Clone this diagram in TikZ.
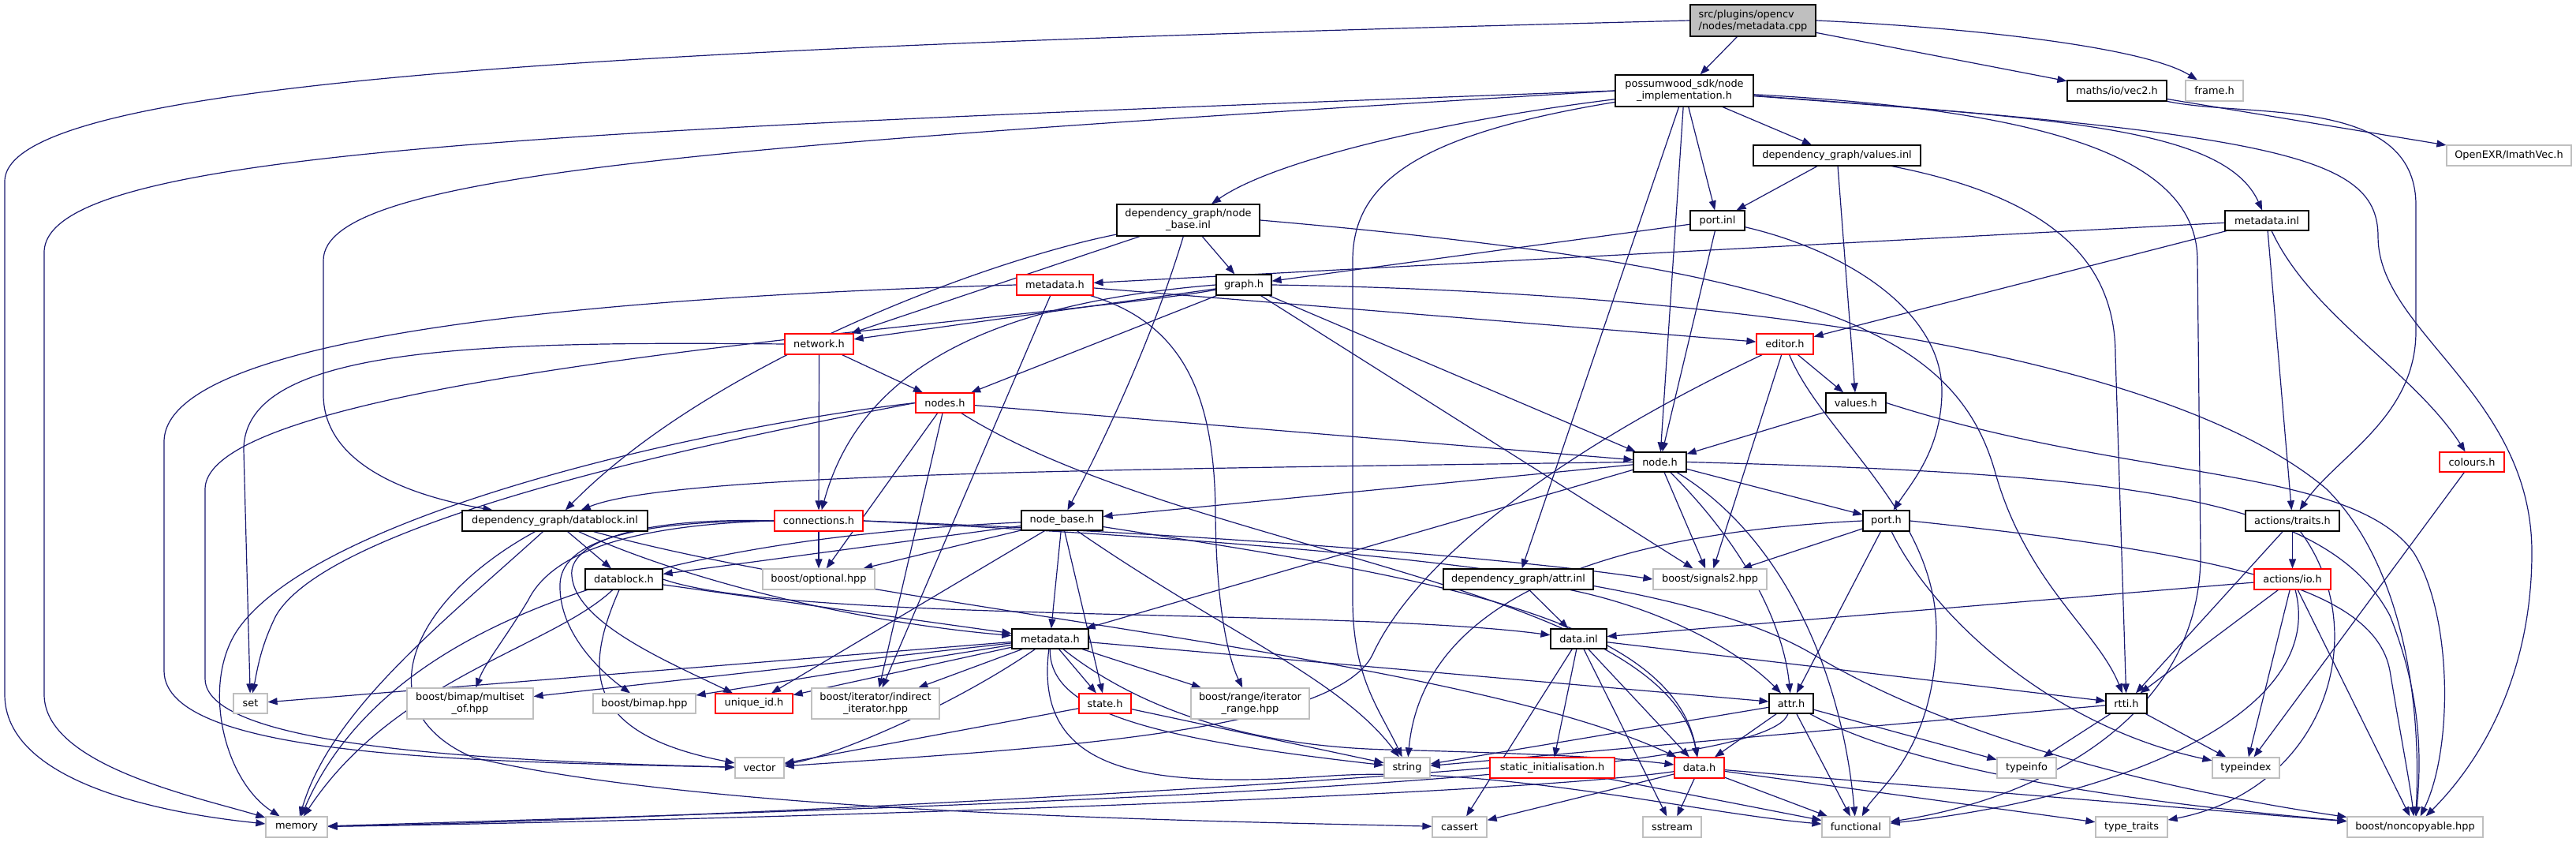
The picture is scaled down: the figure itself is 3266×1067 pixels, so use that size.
\documentclass[tikz,border=0pt]{standalone}
\usepackage{fontspec}
\setmainfont{DejaVu Sans}
\usetikzlibrary{arrows.meta}
\definecolor{edgeblue}{RGB}{25,25,112}
\definecolor{greyS}{RGB}{191,191,191}
\newcommand\nodefont{\fontsize{12.9}{15}\selectfont}
\pgfdeclarelayer{bg}
\pgfsetlayers{bg,main}
\begin{document}
\begin{tikzpicture}[x=1pt,y=-1pt,
  nb/.style={draw, rectangle, fill=white, line width=1.2pt, inner sep=0pt, align=center, font=\nodefont},
  blk/.style={nb, draw=black},
  rd/.style={nb, draw=red},
  gr/.style={nb, draw=greyS},
  root/.style={nb, draw=black, fill=greyS, align=left},
  e/.style={draw=edgeblue, line width=1.2pt, -{Triangle[length=12pt,width=9pt]}}]
\useasboundingbox (0,0) rectangle (3266,1067);
% nodes
\node[root, minimum width=159pt, minimum height=40pt] (src) at (2222.5,26) {src/plugins/opencv\\/nodes/metadata.cpp};
\node[blk, minimum width=175pt, minimum height=40pt] (impl) at (2135.5,115) {possumwood\_sdk/node\\\_implementation.h};
\node[blk, minimum width=126pt, minimum height=26pt] (vec2) at (2684,115) {maths/io/vec2.h};
\node[gr, minimum width=73pt, minimum height=26pt] (frame) at (2807.5,115) {frame.h};
\node[blk, minimum width=212pt, minimum height=26pt] (valinl) at (2329,197) {dependency\_graph/values.inl};
\node[gr, minimum width=158pt, minimum height=26pt] (imath) at (3181,197) {OpenEXR/ImathVec.h};
\node[blk, minimum width=181pt, minimum height=40pt] (nbinl) at (1506.5,279) {dependency\_graph/node\\\_base.inl};
\node[blk, minimum width=69pt, minimum height=25pt] (portinl) at (2177.5,279.5) {port.inl};
\node[blk, minimum width=106pt, minimum height=25pt] (mdinl) at (2874,279.5) {metadata.inl};
\node[rd, minimum width=97pt, minimum height=26pt] (mdh1) at (1337.5,361) {metadata.h};
\node[blk, minimum width=70pt, minimum height=26pt] (graph) at (1577,361) {graph.h};
\node[rd, minimum width=87pt, minimum height=26pt] (network) at (1038.5,436) {network.h};
\node[rd, minimum width=72pt, minimum height=26pt] (editor) at (2263,436) {editor.h};
\node[rd, minimum width=74pt, minimum height=25pt] (nodes) at (1198,510.5) {nodes.h};
\node[blk, minimum width=76pt, minimum height=25pt] (values) at (2353,510.5) {values.h};
\node[blk, minimum width=67pt, minimum height=25pt] (nodeh) at (2104.5,585.5) {node.h};
\node[rd, minimum width=82pt, minimum height=25pt] (colours) at (3134,585.5) {colours.h};
\node[blk, minimum width=235pt, minimum height=26pt] (dbinl) at (703.5,660) {dependency\_graph/datablock.inl};
\node[rd, minimum width=112pt, minimum height=26pt] (conn) at (1038,660) {connections.h};
\node[blk, minimum width=103pt, minimum height=25pt] (nbase) at (1346.5,659.5) {node\_base.h};
\node[blk, minimum width=59pt, minimum height=26pt] (port) at (2391.5,660) {port.h};
\node[blk, minimum width=119pt, minimum height=26pt] (traits) at (2906.5,660) {actions/traits.h};
\node[blk, minimum width=98pt, minimum height=26pt] (dblock) at (791,734) {datablock.h};
\node[gr, minimum width=142pt, minimum height=26pt] (optional) at (1038,734) {boost/optional.hpp};
\node[blk, minimum width=190pt, minimum height=26pt] (attrinl) at (1925,734) {dependency\_graph/attr.inl};
\node[gr, minimum width=144pt, minimum height=26pt] (signals) at (2168,734) {boost/signals2.hpp};
\node[rd, minimum width=97pt, minimum height=26pt] (io) at (2906.5,734) {actions/io.h};
\node[blk, minimum width=97pt, minimum height=25pt] (mdh) at (1331.5,809.5) {metadata.h};
\node[blk, minimum width=71pt, minimum height=25pt] (datainl) at (2001.5,809.5) {data.inl};
\node[gr, minimum width=43pt, minimum height=25pt] (seth) at (317.5,891.5) {set};
\node[gr, minimum width=160pt, minimum height=39pt] (multiset) at (596,891.5) {boost/bimap/multiset\\\_of.hpp};
\node[gr, minimum width=130pt, minimum height=25pt] (bimap) at (817,891.5) {boost/bimap.hpp};
\node[rd, minimum width=98pt, minimum height=25pt] (uid) at (956,891.5) {unique\_id.h};
\node[gr, minimum width=162pt, minimum height=39pt] (indirect) at (1110,891.5) {boost/iterator/indirect\\\_iterator.hpp};
\node[rd, minimum width=66pt, minimum height=25pt] (state) at (1401,891.5) {state.h};
\node[gr, minimum width=150pt, minimum height=39pt] (range) at (1585,891.5) {boost/range/iterator\\\_range.hpp};
\node[blk, minimum width=56pt, minimum height=25pt] (attr) at (2271,891.5) {attr.h};
\node[blk, minimum width=52pt, minimum height=25pt] (rtti) at (2696,891.5) {rtti.h};
\node[gr, minimum width=62pt, minimum height=26pt] (vector) at (963,973) {vector};
\node[gr, minimum width=58pt, minimum height=26pt] (string) at (1784,973) {string};
\node[rd, minimum width=158pt, minimum height=26pt] (static) at (1968,973) {static\_initialisation.h};
\node[rd, minimum width=63pt, minimum height=26pt] (datah) at (2154.5,973) {data.h};
\node[gr, minimum width=75pt, minimum height=26pt] (typeinfo) at (2569.5,973) {typeinfo};
\node[gr, minimum width=85pt, minimum height=26pt] (typeindex) at (2847.5,973) {typeindex};
\node[gr, minimum width=78pt, minimum height=26pt] (memory) at (376,1048) {memory};
\node[gr, minimum width=69pt, minimum height=26pt] (cassert) at (1850.5,1048) {cassert};
\node[gr, minimum width=74pt, minimum height=26pt] (sstream) at (2120,1048) {sstream};
\node[gr, minimum width=86pt, minimum height=26pt] (functional) at (2353,1048) {functional};
\node[gr, minimum width=91pt, minimum height=26pt] (typetraits) at (2702.5,1048) {type\_traits};
\node[gr, minimum width=172pt, minimum height=26pt] (noncopy) at (3062,1048) {boost/noncopyable.hpp};
% edges
\begin{pgfonlayer}{bg}
% src
\draw[e] (src.west) .. controls (800,60) and (6,100) .. (6,230) -- (6,880) .. controls (6,990) and (200,1030) .. (memory);
\draw[e] (src) -- (impl);
\draw[e] (src) -- (vec2);
\draw[e] (src.east) .. controls (2500,35) and (2720,60) .. (frame);
\draw[e] (vec2) -- (imath);
\draw[e] (vec2) .. controls (2850,150) and (3063,120) .. (3063,260) -- (3063,420) .. controls (3063,530) and (2960,580) .. (traits);
% impl
\draw[e] (impl.west) .. controls (700,165) and (56,190) .. (56,320) -- (56,880) .. controls (56,970) and (250,1010) .. (memory);
\draw[e] (impl.west) .. controls (900,185) and (410,220) .. (410,330) -- (410,500) .. controls (410,580) and (500,625) .. (dbinl);
\draw[e] (impl) .. controls (1850,150) and (1620,200) .. (nbinl);
\draw[e] (impl) .. controls (1800,170) and (1715,230) .. (1715,330) -- (1715,760) .. controls (1715,860) and (1750,900) .. (string);
\draw[e] (impl) -- (nodeh);
\draw[e] (impl) -- (attrinl);
\draw[e] (impl) -- (portinl);
\draw[e] (impl) -- (valinl);
\draw[e] (impl) .. controls (2600,150) and (2820,160) .. (mdinl);
\draw[e] (impl) .. controls (2600,140) and (2786,200) .. (2786,330) -- (2790,700) .. controls (2792,900) and (2600,1010) .. (functional);
\draw[e] (impl) .. controls (2900,170) and (3015,200) .. (3015,300) .. controls (3015,420) and (3210,500) .. (3210,700) .. controls (3210,850) and (3150,960) .. (noncopy);
% valinl
\draw[e] (valinl) -- (portinl);
\draw[e] (valinl) -- (values);
\draw[e] (valinl) .. controls (2600,250) and (2682,330) .. (2682,450) -- (rtti);
% nbinl
\draw[e] (nbinl) -- (graph);
\draw[e] (nbinl) -- (network);
\draw[e] (nbinl) .. controls (1250,330) and (900,460) .. (dbinl);
\draw[e] (nbinl) .. controls (1470,400) and (1420,520) .. (nbase);
\draw[e] (nbinl.east) .. controls (2300,340) and (2480,420) .. (2530,600) .. controls (2570,740) and (2660,800) .. (rtti);
% portinl
\draw[e] (portinl) -- (graph);
\draw[e] (portinl) -- (nodeh);
\draw[e] (portinl) .. controls (2350,320) and (2465,400) .. (2462,500) .. controls (2460,570) and (2425,610) .. (port);
% mdinl
\draw[e] (mdinl) -- (mdh1);
\draw[e] (mdinl) -- (editor);
\draw[e] (mdinl) -- (traits);
\draw[e] (mdinl) .. controls (2930,400) and (3060,470) .. (colours);
% mdh1
\draw[e] (mdh1) -- (editor);
\draw[e] (mdh1.west) .. controls (800,375) and (208,420) .. (208,560) -- (208,850) .. controls (208,960) and (600,965) .. (vector);
\draw[e] (mdh1) -- (indirect);
\draw[e] (mdh1) .. controls (1500,410) and (1540,500) .. (1541,650) .. controls (1542,780) and (1560,840) .. (range);
% graph
\draw[e] (graph) -- (network);
\draw[e] (graph) -- (nodes);
\draw[e] (graph.west) .. controls (1250,385) and (1090,470) .. (conn);
\draw[e] (graph) -- (nodeh);
\draw[e] (graph) -- (signals);
\draw[e] (graph.east) .. controls (2200,370) and (2750,450) .. (2950,620) .. controls (3050,720) and (3070,900) .. (noncopy);
\draw[e] (graph) .. controls (1300,410) and (260,470) .. (260,620) -- (260,860) .. controls (260,950) and (650,965) .. (vector);
% network
\draw[e] (network) -- (nodes);
\draw[e] (network) -- (conn);
\draw[e] (network.west) .. controls (600,432) and (309,440) .. (309,570) -- (seth);
% editor
\draw[e] (editor) -- (values);
\draw[e] (editor) -- (signals);
\draw[e] (editor) .. controls (2000,560) and (1800,700) .. (1740,830) .. controls (1690,930) and (1300,950) .. (vector);
\draw[e] (editor) .. controls (2310,550) and (2455,650) .. (2455,800) .. controls (2455,950) and (2380,1000) .. (functional);
% nodes
\draw[e] (nodes) -- (nodeh);
\draw[e] (nodes) -- (optional);
\draw[e] (nodes.west) .. controls (900,540) and (400,650) .. (300,800) .. controls (255,870) and (285,990) .. (memory);
\draw[e] (nodes.west) .. controls (900,560) and (420,660) .. (350,780) .. controls (330,820) and (326,850) .. (seth);
\draw[e] (nodes) -- (indirect);
\draw[e] (nodes) .. controls (1500,700) and (2110,740) .. (datah);
% nbase
\draw[e] (nbase) -- (dblock);
\draw[e] (nbase) -- (optional);
\draw[e] (nbase) -- (mdh);
\draw[e] (nbase) -- (state);
\draw[e] (nbase) .. controls (1550,800) and (1700,860) .. (string);
\draw[e] (nbase) .. controls (1800,730) and (2120,780) .. (datah);
\draw[e] (nbase) -- (uid);
\draw[e] (nbase) .. controls (900,680) and (500,760) .. (memory);
% conn
\draw[e] (conn) -- (optional);
\draw[e] (conn.east) .. controls (1500,675) and (1900,705) .. (signals.west);
\draw[e] (conn.east) .. controls (1800,695) and (2150,740) .. (2300,830) .. controls (2500,950) and (2800,1010) .. (noncopy);
\draw[e] (conn.west) .. controls (800,655) and (720,690) .. (725,730) .. controls (730,790) and (850,840) .. (uid);
\draw[e] (conn.west) .. controls (790,660) and (712,690) .. (710,740) .. controls (708,800) and (760,850) .. (bimap);
\draw[e] (conn.west) .. controls (800,665) and (700,700) .. (670,760) .. controls (640,810) and (615,840) .. (multiset);
% dbinl
\draw[e] (dbinl) -- (dblock);
\draw[e] (dbinl) .. controls (880,740) and (1100,790) .. (mdh);
\draw[e] (dbinl) .. controls (520,760) and (460,900) .. (600,960) .. controls (900,1030) and (1500,1040) .. (cassert);
\draw[e] (dbinl) .. controls (560,790) and (420,900) .. (memory);
\draw[e] (dbinl) .. controls (1100,770) and (1850,830) .. (datah);
% dblock
\draw[e] (dblock) -- (mdh);
\draw[e] (dblock.east) .. controls (1000,790) and (1700,770) .. (datainl);
\draw[e] (dblock) .. controls (700,820) and (500,860) .. (memory);
\draw[e] (dblock) .. controls (740,850) and (740,930) .. (vector);
% attrinl
\draw[e] (attrinl) -- (datainl);
\draw[e] (attrinl) .. controls (2100,770) and (2200,820) .. (attr);
% port
\draw[e] (port) -- (signals);
\draw[e] (port) -- (attr);
\draw[e] (port) .. controls (2450,780) and (2600,920) .. (typeindex);
\draw[e] (port.east) .. controls (2800,700) and (3010,740) .. (3030,850) .. controls (3045,940) and (3055,990) .. (noncopy);
\draw[e] (port.west) .. controls (1950,680) and (1800,800) .. (string);
% node
\draw[e] (nodeh) -- (nbase);
\draw[e] (nodeh) -- (port);
\draw[e] (nodeh) -- (mdh);
\draw[e] (nodeh) -- (signals);
\draw[e] (nodeh) .. controls (2200,680) and (2260,780) .. (attr);
\draw[e] (nodeh) .. controls (2260,680) and (2335,850) .. (functional);
\draw[e] (nodeh.east) .. controls (2700,600) and (2950,630) .. (3030,780) .. controls (3070,880) and (3070,960) .. (noncopy);
\draw[e] (nodeh.west) .. controls (1400,595) and (850,600) .. (dbinl);
% values
\draw[e] (values) -- (nodeh);
\draw[e] (values.east) .. controls (2700,610) and (2980,590) .. (3060,700) .. controls (3110,780) and (3110,950) .. (noncopy);
% traits
\draw[e] (traits) -- (io);
\draw[e] (traits) -- (rtti);
\draw[e] (traits) .. controls (3010,800) and (2950,1000) .. (typetraits);
% io
\draw[e] (io) -- (datainl);
\draw[e] (io) -- (rtti);
\draw[e] (io) -- (typeindex);
\draw[e] (io) .. controls (2950,900) and (2700,1010) .. (functional);
\draw[e] (io) -- (noncopy);
% colours
\draw[e] (colours) -- (typeindex);
% mdh
\draw[e] (mdh) -- (seth);
\draw[e] (mdh) -- (multiset);
\draw[e] (mdh) -- (bimap);
\draw[e] (mdh) -- (uid);
\draw[e] (mdh) -- (indirect);
\draw[e] (mdh) -- (state);
\draw[e] (mdh) -- (range);
\draw[e] (mdh) -- (attr);
\draw[e] (mdh) .. controls (1200,900) and (1050,960) .. (vector);
\draw[e] (mdh) .. controls (1330,900) and (1450,935) .. (string);
\draw[e] (mdh) .. controls (1420,880) and (1550,945) .. (1760,950) .. controls (1950,955) and (2050,960) .. (datah);
\draw[e] (mdh) .. controls (1310,980) and (1450,1000) .. (1689,983) .. controls (1900,970) and (2150,1030) .. (functional);
% datainl
\draw[e] (datainl) -- (rtti);
\draw[e] (datainl) -- (datah);
\draw[e] (datainl) -- (static);
\draw[e] (datainl) -- (cassert);
\draw[e] (datainl) -- (sstream);
% state
\draw[e] (state) -- (vector);
\draw[e] (state) -- (string);
% attr
\draw[e] (attr) -- (string);
\draw[e] (attr) -- (datah);
\draw[e] (attr) .. controls (2240,990) and (1300,1020) .. (memory);
\draw[e] (attr) -- (typeinfo);
\draw[e] (attr) -- (functional);
\draw[e] (attr) .. controls (2450,990) and (2800,1025) .. (noncopy);
% rtti
\draw[e] (rtti) -- (string);
\draw[e] (rtti) -- (typeinfo);
\draw[e] (rtti) -- (typeindex);
% static
\draw[e] (static.west) .. controls (1500,1005) and (800,1040) .. (memory);
\draw[e] (static) -- (functional);
% data
\draw[e] (datah) .. controls (1900,1010) and (900,1040) .. (memory);
\draw[e] (datah) -- (cassert);
\draw[e] (datah) -- (sstream);
\draw[e] (datah) -- (functional);
\draw[e] (datah) -- (typetraits);
\draw[e] (datah) -- (noncopy);
\end{pgfonlayer}
\end{tikzpicture}
\end{document}
